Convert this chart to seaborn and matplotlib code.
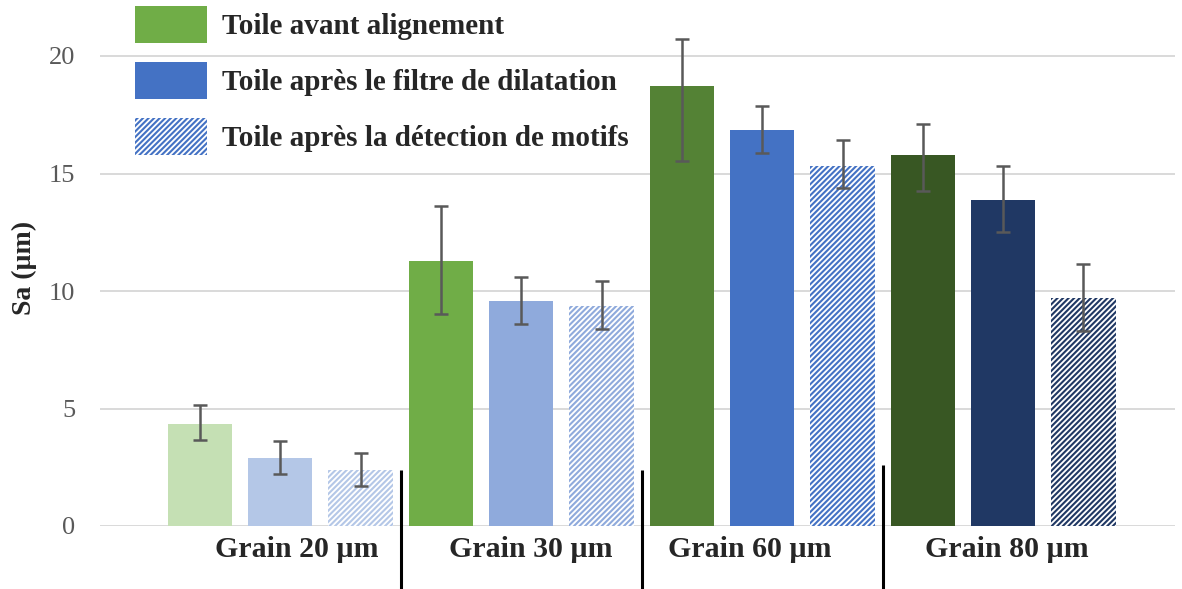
import matplotlib
matplotlib.use("Agg")
import matplotlib.pyplot as plt
from matplotlib.patches import Patch
import seaborn as sns
import pandas as pd
import numpy as np

# ---------------- data ----------------
groups = ["Grain 20 µm", "Grain 30 µm", "Grain 60 µm", "Grain 80 µm"]
series = ["Toile avant alignement",
          "Toile après le filtre de dilatation",
          "Toile après la détection de motifs"]

sa_avant = [4.34, 11.26, 18.74, 15.80]
sa_dilat = [2.91, 9.57, 16.83, 13.87]
sa_motif = [2.37, 9.35, 15.33, 9.72]

low_avant = [3.67, 9.02, 15.52, 14.27]
high_avant = [5.16, 13.63, 20.71, 17.10]
low_dilat = [2.21, 8.58, 15.86, 12.52]
high_dilat = [3.63, 10.61, 17.87, 15.32]
low_motif = [1.70, 8.38, 14.38, 8.31]
high_motif = [3.09, 10.41, 16.41, 11.15]

green_shades = ["#C5E0B4", "#70AD47", "#548235", "#385723"]
blue_shades = ["#B4C7E7", "#8FAADC", "#4472C4", "#203864"]

yticks = [0, 5, 10, 15, 20]
ylabel = "Sa (µm)"

# ---------------- build table ----------------
rows = []
for gi, g in enumerate(groups):
    for si, (vals, lo, hi) in enumerate([(sa_avant, low_avant, high_avant),
                                         (sa_dilat, low_dilat, high_dilat),
                                         (sa_motif, low_motif, high_motif)]):
        rows.append(dict(bar=f"{g}|{si}", group=g, series=series[si],
                         value=vals[gi], lo=lo[gi], hi=hi[gi],
                         color=(green_shades[gi] if si == 0 else blue_shades[gi]),
                         hatched=(si == 2)))
df = pd.DataFrame(rows)
order = list(df["bar"])

HATCH = "//////"

# ---------------- style ----------------
sns.set_theme(style="white")
plt.rcParams["font.family"] = ["Liberation Serif", "DejaVu Serif"]
plt.rcParams["hatch.linewidth"] = 1.5

fig = plt.figure(figsize=(11.82, 5.89), dpi=100)
ax = fig.add_axes([100 / 1182, 63 / 589, 1075 / 1182, 517 / 589])

palette = dict(zip(df["bar"], df["color"]))
sns.barplot(data=df, x="bar", y="value", hue="bar", order=order, hue_order=order,
            palette=palette, legend=False, width=0.8, saturation=1,
            errorbar=None, ax=ax, zorder=2)

# style bars (hatching for pattern-detection series)
patches = [c.patches[0] for c in ax.containers]
for p, (_, r) in zip(patches, df.iterrows()):
    p.set_linewidth(0)
    if r["hatched"]:
        p.set_facecolor("white")
        p.set_edgecolor(r["color"])
        p.set_hatch(HATCH)

# error bars
xs = np.array([p.get_x() + p.get_width() / 2 for p in patches])
vals = df["value"].to_numpy()
yerr = np.vstack([vals - df["lo"].to_numpy(), df["hi"].to_numpy() - vals])
ax.errorbar(xs, vals, yerr=yerr, fmt="none", ecolor="#595959",
            elinewidth=1.8, capsize=4.8, capthick=1.8, zorder=3)

# axes
ax.set_ylim(0, 22)
ax.set_xlim(-1.245, 12.14)
ax.set_yticks(yticks)
ax.set_yticklabels([str(t) for t in yticks])
ax.yaxis.grid(True, color="#D9D9D9", linewidth=1.4, zorder=0)
ax.set_axisbelow(True)
ax.tick_params(axis="y", length=0, pad=18, labelsize=19, labelcolor="#595959")
ax.set_xticks([])
ax.set_xlabel("")
ax.set_ylabel("")
for s in ax.spines.values():
    s.set_visible(False)

fig.text(24 / 1182, 1 - 268 / 589, ylabel, rotation=90, ha="center", va="center",
         fontsize=20, fontweight="bold")

# group labels and separators
label_x = [1.20, 4.12, 6.84, 10.05]
for g, lx in zip(groups, label_x):
    ax.text(lx, -0.98, g, ha="center", va="center", fontsize=21.5,
            fontweight="bold", clip_on=False)
sep_top = [2.4, 2.4, 2.6]
for k, top in enumerate(sep_top):
    xsep = (xs[3 * k + 2] + xs[3 * k + 3]) / 2
    ax.plot([xsep, xsep], [top, -2.75], color="black", linewidth=2.2,
            clip_on=False, zorder=4, solid_capstyle="butt")

# legend
handles = [Patch(facecolor="#70AD47", edgecolor="none", linewidth=0),
           Patch(facecolor="#4472C4", edgecolor="none", linewidth=0),
           Patch(facecolor="white", edgecolor="#4472C4", hatch=HATCH, linewidth=0)]
leg = fig.legend(handles, series, loc="upper left",
                 bbox_to_anchor=(135 / 1182, 1 - 6 / 589),
                 frameon=False, borderpad=0, borderaxespad=0,
                 handlelength=2.47, handleheight=1.58, handletextpad=0.5,
                 labelspacing=0.65, prop=dict(size=21, weight="bold"))

fig.savefig("out.png", dpi=100)
